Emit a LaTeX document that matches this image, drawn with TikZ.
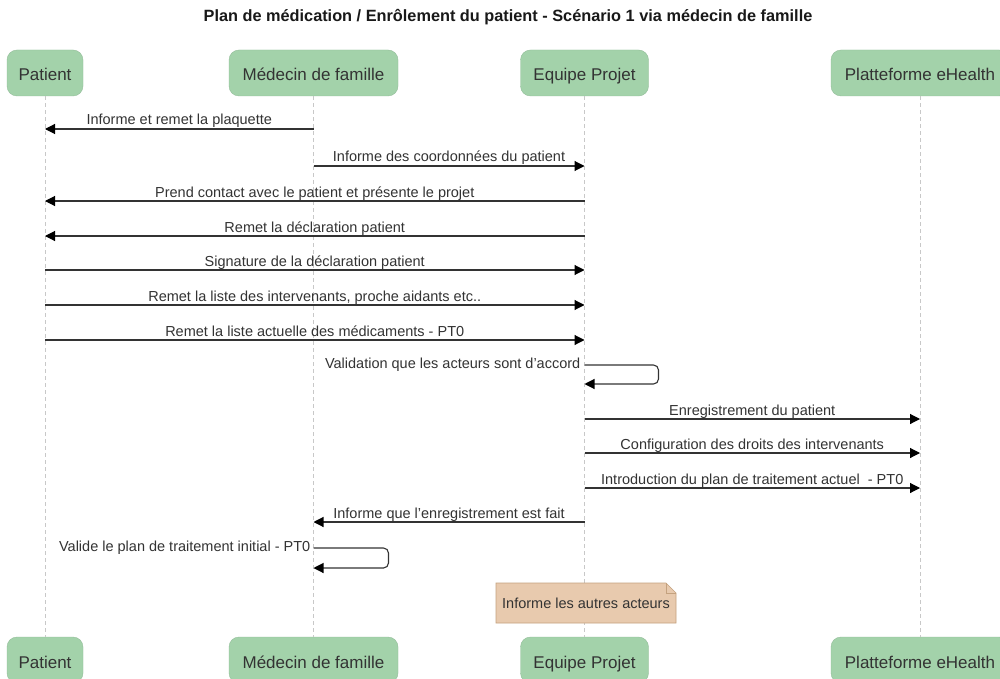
\documentclass[tikz,border=0pt]{standalone}
\usepackage{fontspec}
\setmainfont{Liberation Sans}
\usetikzlibrary{arrows.meta}
\definecolor{partfill}{HTML}{A3D2AA}
\definecolor{txt}{HTML}{333333}
\definecolor{lifeln}{HTML}{C8C8C8}
\definecolor{notefill}{HTML}{E8CAAE}
\definecolor{notedraw}{HTML}{C4A27F}
\begin{document}
\begin{tikzpicture}[x=1pt,y=-1pt,
  part/.style={rectangle, rounded corners=10pt, fill=partfill, draw=partfill!90!black, line width=0.4pt,
    minimum height=46pt, text=txt, font=\fontsize{17}{20}\selectfont, inner xsep=2pt,
    text height=16pt, text depth=0pt},
  life/.style={draw=lifeln, dash pattern=on 4pt off 3pt, line width=0.8pt},
  msg/.style={draw=black!80, line width=1.1pt, -{Triangle[length=10pt,width=10pt,color=black]}},
  lbl/.style={font=\fontsize{14.5}{16}\selectfont, text=txt, inner sep=0pt},
  notebox/.style={font=\fontsize{14.5}{16}\selectfont, text=txt, minimum width=180pt, minimum height=40pt, inner sep=0pt},
  noteline/.style={draw=notedraw, line width=0.7pt},
]
\clip (0,0) rectangle (1000,679);
\fill[white] (0,0) rectangle (1000,679);
\node[font=\bfseries\fontsize{16.3}{18}\selectfont, text=black!90] (title) at (508,17)
  {Plan de médication / Enrôlement du patient - Scénario 1 via médecin de famille};

% participants
\node[part, minimum width=76pt]  (pa) at (45,73)    {Patient};
\node[part, minimum width=169pt] (md) at (313.5,73) {Médecin de famille};
\node[part, minimum width=128pt] (eq) at (584.5,73) {Equipe Projet};
\node[part, minimum width=178pt] (eh) at (920,73)   {Platteforme eHealth};
\node[part, minimum width=76pt]  (pab) at (45,660)    {Patient};
\node[part, minimum width=169pt] (mdb) at (313.5,660) {Médecin de famille};
\node[part, minimum width=128pt] (eqb) at (584.5,660) {Equipe Projet};
\node[part, minimum width=178pt] (ehb) at (920,660)   {Platteforme eHealth};

% lifelines
\draw[life] (pa.south) -- (pab.north);
\draw[life] (md.south) -- (mdb.north);
\draw[life] (eq.south) -- (eqb.north);
\draw[life] (eh.south) -- (ehb.north);

% messages
\draw[msg] (md |- 0,129) -- node[lbl, anchor=base, yshift=4pt] {Informe et remet la plaquette} (pa |- 0,129);
\draw[msg] (md |- 0,166) -- node[lbl, anchor=base, yshift=4pt] {Informe des coordonnées du patient} (eq |- 0,166);
\draw[msg] (eq |- 0,201) -- node[lbl, anchor=base, yshift=4pt] {Prend contact avec le patient et présente le projet} (pa |- 0,201);
\draw[msg] (eq |- 0,236) -- node[lbl, anchor=base, yshift=4pt] {Remet la déclaration patient} (pa |- 0,236);
\draw[msg] (pa |- 0,270) -- node[lbl, anchor=base, yshift=4pt] {Signature de la déclaration patient} (eq |- 0,270);
\draw[msg] (pa |- 0,305) -- node[lbl, anchor=base, yshift=4pt] {Remet la liste des intervenants, proche aidants etc..} (eq |- 0,305);
\draw[msg] (pa |- 0,340) -- node[lbl, anchor=base, yshift=4pt] {Remet la liste actuelle des médicaments - PT0} (eq |- 0,340);

\draw[msg, rounded corners=5pt] (eq |- 0,365) coordinate (v1) -- ++(74,0) -- ++(0,19) -- (eq |- 0,384);
\node[lbl, anchor=east] (v1l) at ([xshift=-4pt]v1) {Validation que les acteurs sont d'accord};

\draw[msg] (eq |- 0,419) -- node[lbl, anchor=base, yshift=4pt] {Enregistrement du patient} (eh |- 0,419);
\draw[msg] (eq |- 0,453) -- node[lbl, anchor=base, yshift=4pt] {Configuration des droits des intervenants} (eh |- 0,453);
\draw[msg] (eq |- 0,488) -- node[lbl, anchor=base, yshift=4pt] {Introduction du plan de traitement actuel~ - PT0} (eh |- 0,488);
\draw[msg] (eq |- 0,522) -- node[lbl, anchor=base, yshift=4pt] {Informe que l'enregistrement est fait} (md |- 0,522);

\draw[msg, rounded corners=5pt] (md |- 0,548) coordinate (v2) -- ++(75,0) -- ++(0,20) -- (md |- 0,568);
\node[lbl, anchor=east] (v2l) at ([xshift=-3pt]v2) {Valide le plan de traitement initial - PT0};

% note
\coordinate (ntc) at (586,603);
\filldraw[noteline, fill=notefill]
  ([shift={(-90,20)}]ntc) -- ([shift={(-90,-20)}]ntc) -- ([shift={(80,-20)}]ntc) -- ([shift={(90,-10)}]ntc) -- ([shift={(90,20)}]ntc) -- cycle;
\draw[noteline] ([shift={(80,-20)}]ntc) -- ([shift={(80,-10)}]ntc) -- ([shift={(90,-10)}]ntc);
\node[notebox] (nt) at (ntc) {Informe les autres acteurs};
\end{tikzpicture}
\end{document}
